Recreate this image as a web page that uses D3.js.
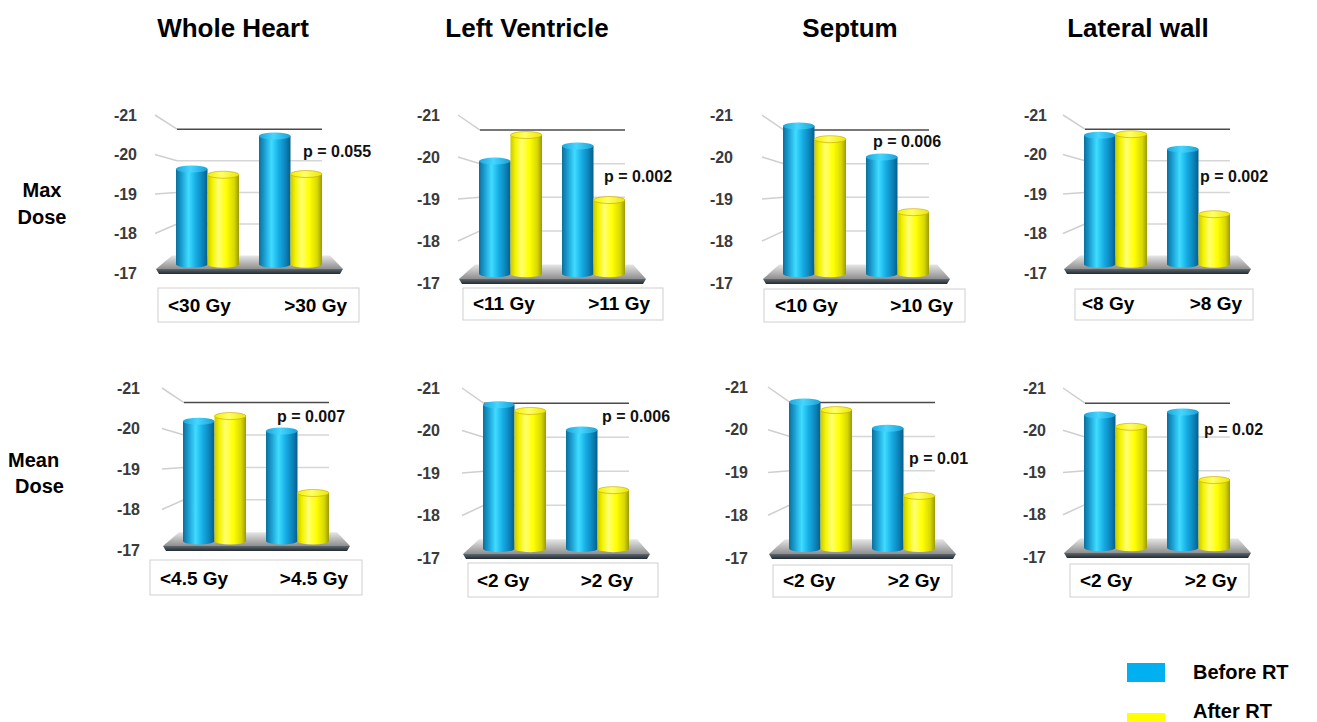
<!DOCTYPE html>
<html>
<head>
<meta charset="utf-8">
<script src="https://cdn.jsdelivr.net/npm/d3@7"></script>
<style>
  body { margin: 0; background: #fff; }
  svg { display: block; font-family: "Liberation Sans", Arial, sans-serif; font-weight: bold; }
</style>
</head>
<body>
<svg id="chart" width="1317" height="722"></svg>
<script>
// ---- data ----
const titles = ['Whole Heart', 'Left Ventricle', 'Septum', 'Lateral wall'];
const rowLabels = [['Max', 'Dose'], ['Mean', 'Dose']];
const series = ['Before RT', 'After RT'];
const yTicks = [-21, -20, -19, -18, -17];

const maxCats = [['<30 Gy', '>30 Gy'], ['<11 Gy', '>11 Gy'], ['<10 Gy', '>10 Gy'], ['<8 Gy', '>8 Gy']];
const meanCats = [['<4.5 Gy', '>4.5 Gy'], ['<2 Gy', '>2 Gy'], ['<2 Gy', '>2 Gy'], ['<2 Gy', '>2 Gy']];

const beforeMax = [[-19.68, -20.61], [-19.98, -20.38], [-20.91, -20.09], [-20.63, -20.24]];
const afterMax = [[-19.52, -19.54], [-20.67, -18.95], [-20.56, -18.63], [-20.66, -18.41]];
const beforeMean = [[-20.29, -20.02], [-20.76, -20.10], [-20.81, -20.13], [-20.49, -20.57]];
const afterMean = [[-20.43, -18.32], [-20.60, -18.53], [-20.60, -18.37], [-20.18, -18.78]];

const pMax = ['p = 0.055', 'p = 0.002', 'p = 0.006', 'p = 0.002'];
const pMean = ['p = 0.007', 'p = 0.006', 'p = 0.01', 'p = 0.02'];

// ---- layout of each pasted panel (they are not all the same size) ----
const layout = [
  { x0: 155, labelX: 137, top: 115, bot: 273, box: [158, 359, 288, 322], l1: 168, l2: 347, px: 303, py: 157 },
  { x0: 458, labelX: 440, top: 115, bot: 283, box: [463, 663, 288, 320], l1: 473, l2: 650, px: 604, py: 182 },
  { x0: 762, labelX: 733, top: 115, bot: 283, box: [764, 965, 289, 322], l1: 775, l2: 953, px: 873, py: 147 },
  { x0: 1063, labelX: 1047, top: 115, bot: 273, box: [1075, 1253, 289, 320], l1: 1082, l2: 1242, px: 1200, py: 182 },
  { x0: 162, labelX: 140, top: 388, bot: 550, box: [150, 362, 560, 595], l1: 160, l2: 348, px: 277, py: 422 },
  { x0: 462, labelX: 440, top: 388, bot: 558, box: [468, 658, 563, 597], l1: 477, l2: 633, px: 602, py: 422 },
  { x0: 768, labelX: 748, top: 387, bot: 558, box: [773, 952, 565, 597], l1: 783, l2: 940, px: 909, py: 464 },
  { x0: 1063, labelX: 1046, top: 388, bot: 557, box: [1070, 1249, 564, 597], l1: 1080, l2: 1237, px: 1204, py: 435 }
];
const titleX = [233, 527, 850, 1138];

const svg = d3.select('#chart');
svg.append('rect').attr('width', 1317).attr('height', 722).attr('fill', '#fff');

const defs = svg.append('defs');
function hGrad(id, stops) {
  const gr = defs.append('linearGradient').attr('id', id)
    .attr('x1', 0).attr('x2', 1).attr('y1', 0).attr('y2', 0);
  stops.forEach(s => gr.append('stop').attr('offset', s[0]).attr('stop-color', s[1]));
}
function vGrad(id, stops) {
  const gr = defs.append('linearGradient').attr('id', id)
    .attr('x1', 0).attr('x2', 0).attr('y1', 0).attr('y2', 1);
  stops.forEach(s => gr.append('stop').attr('offset', s[0]).attr('stop-color', s[1]));
}
hGrad('blueBody', [[0, '#0a6f9c'], [0.18, '#1b9fd2'], [0.4, '#3fdcff'], [0.62, '#17aee6'], [0.85, '#0b82b8'], [1, '#075e86']]);
hGrad('yellowBody', [[0, '#c9c900'], [0.15, '#f2f200'], [0.35, '#ffff70'], [0.6, '#ffff00'], [0.85, '#d8d800'], [1, '#9a9a00']]);
hGrad('blueTop', [[0, '#1aa6dc'], [0.45, '#45d6ff'], [1, '#1aa0d6']]);
hGrad('yellowTop', [[0, '#f0f000'], [0.45, '#ffff66'], [1, '#e8e800']]);
vGrad('floorTop', [[0, '#e6e6e6'], [1, '#8e8e8e']]);
vGrad('floorEdge', [[0, '#5d6870'], [1, '#232b31']]);

const barColors = {
  'Before RT': { body: 'url(#blueBody)', top: 'url(#blueTop)', stroke: 'none' },
  'After RT': { body: 'url(#yellowBody)', top: 'url(#yellowTop)', stroke: '#c9a000' }
};

// titles and row labels
svg.selectAll('text.title').data(titles).enter().append('text')
  .attr('class', 'title')
  .attr('x', (d, i) => titleX[i]).attr('y', 37)
  .attr('text-anchor', 'middle').style('font-size', '26px').attr('fill', '#000')
  .text(d => d);

svg.append('text').attr('x', 42).attr('y', 197).attr('text-anchor', 'middle').style('font-size', '20px').text(rowLabels[0][0]);
svg.append('text').attr('x', 42).attr('y', 224).attr('text-anchor', 'middle').style('font-size', '20px').text(rowLabels[0][1]);
svg.append('text').attr('x', 8).attr('y', 467).style('font-size', '20px').text(rowLabels[1][0]);
svg.append('text').attr('x', 15).attr('y', 493).style('font-size', '20px').text(rowLabels[1][1]);

function drawPanel(p, cats, before, after, pText) {
  const g = svg.append('g');
  const span = p.bot - p.top;
  const front = d3.scaleLinear().domain([-17, -21]).range([p.bot, p.top]);
  const back = d3.scaleLinear().domain([-17, -21]).range([p.bot - 0.11 * span, p.top + 0.09 * span]);
  const mid = d3.scaleLinear().domain([-17, -21])
    .range([(front(-17) + back(-17)) / 2, (front(-21) + back(-21)) / 2]);

  const wallL = p.x0 + 22, wallR = p.x0 + 167;

  // floor
  const fy = front(-17), by = back(-17);
  g.append('polygon')
    .attr('points', [[p.x0 + 17, by], [p.x0 + 175, by], [p.x0 + 188, fy - 4], [p.x0 + 1, fy - 4]].join(' '))
    .attr('fill', 'url(#floorTop)');
  g.append('polygon')
    .attr('points', [[p.x0 + 1, fy - 4], [p.x0 + 188, fy - 4], [p.x0 + 185, fy + 1], [p.x0 + 4, fy + 1]].join(' '))
    .attr('fill', 'url(#floorEdge)');

  // back wall grid + perspective connectors
  const grid = yTicks.filter(t => t !== -17);
  g.selectAll('line.diag').data(grid).enter().append('line')
    .attr('x1', p.x0).attr('y1', d => front(d))
    .attr('x2', wallL).attr('y2', d => back(d))
    .attr('stroke', '#cfcfcf').attr('stroke-width', 1.5);
  g.selectAll('line.wall').data(grid).enter().append('line')
    .attr('x1', wallL).attr('y1', d => back(d))
    .attr('x2', wallR).attr('y2', d => back(d))
    .attr('stroke', d => d === -21 ? '#4a4a4a' : '#d6d6d6')
    .attr('stroke-width', 1.5);

  // front axis labels
  const axis = d3.axisLeft(front).tickValues(yTicks).tickSize(0).tickPadding(0).tickFormat(d => String(d));
  const ax = g.append('g').attr('transform', `translate(${p.labelX},0)`).call(axis);
  ax.select('.domain').remove();
  ax.selectAll('text').style('font-size', '16px').style('font-weight', 'bold')
    .style('font-family', '"Liberation Sans", Arial, sans-serif').attr('fill', '#3a3a3a');

  // cylinders
  const x = d3.scaleBand().domain([0, 1]).range([wallL - 1, wallR]).paddingInner(0.241);
  const xs = d3.scaleBand().domain(series).range([0, x.bandwidth()]);
  const rows = [];
  [0, 1].forEach(i => {
    rows.push({ c: i, s: 'Before RT', v: before[i] });
    rows.push({ c: i, s: 'After RT', v: after[i] });
  });
  const base = mid(-17), ry = 3.5;
  const bars = g.selectAll('g.bar').data(rows).enter().append('g').attr('class', 'bar');
  bars.append('ellipse')
    .attr('cx', d => x(d.c) + xs(d.s) + xs.bandwidth() / 2).attr('cy', base)
    .attr('rx', xs.bandwidth() / 2).attr('ry', ry)
    .attr('fill', d => barColors[d.s].body);
  bars.append('rect')
    .attr('x', d => x(d.c) + xs(d.s)).attr('y', d => mid(d.v))
    .attr('width', xs.bandwidth()).attr('height', d => base - mid(d.v))
    .attr('fill', d => barColors[d.s].body);
  bars.append('ellipse')
    .attr('cx', d => x(d.c) + xs(d.s) + xs.bandwidth() / 2).attr('cy', d => mid(d.v))
    .attr('rx', xs.bandwidth() / 2).attr('ry', ry)
    .attr('fill', d => barColors[d.s].top)
    .attr('stroke', d => barColors[d.s].stroke).attr('stroke-width', 0.6);

  // p value
  g.append('text').attr('x', p.px).attr('y', p.py).style('font-size', '16px').attr('fill', '#111').text(pText);

  // category box
  const [bx0, bx1, by0, by1] = p.box;
  g.append('rect').attr('x', bx0).attr('y', by0).attr('width', bx1 - bx0).attr('height', by1 - by0)
    .attr('fill', '#fff').attr('stroke', '#cfcfcf').attr('stroke-width', 1);
  g.append('text').attr('x', p.l1).attr('y', by1 - 10).style('font-size', '19px').text(cats[0]);
  g.append('text').attr('x', p.l2).attr('y', by1 - 10).attr('text-anchor', 'end').style('font-size', '19px').text(cats[1]);
}

for (let i = 0; i < 4; i++) {
  drawPanel(layout[i], maxCats[i], beforeMax[i], afterMax[i], pMax[i]);
  drawPanel(layout[i + 4], meanCats[i], beforeMean[i], afterMean[i], pMean[i]);
}

// legend
const legend = svg.append('g');
legend.selectAll('rect').data(series).enter().append('rect')
  .attr('x', 1127).attr('y', (d, i) => 663 + i * 50)
  .attr('width', 38).attr('height', 19)
  .attr('fill', (d, i) => i === 0 ? '#00b0f0' : '#ffff00');
legend.selectAll('text').data(series).enter().append('text')
  .attr('x', 1193).attr('y', (d, i) => 679 + i * 39)
  .style('font-size', '20px').attr('fill', '#000')
  .text(d => d);
</script>
</body>
</html>
